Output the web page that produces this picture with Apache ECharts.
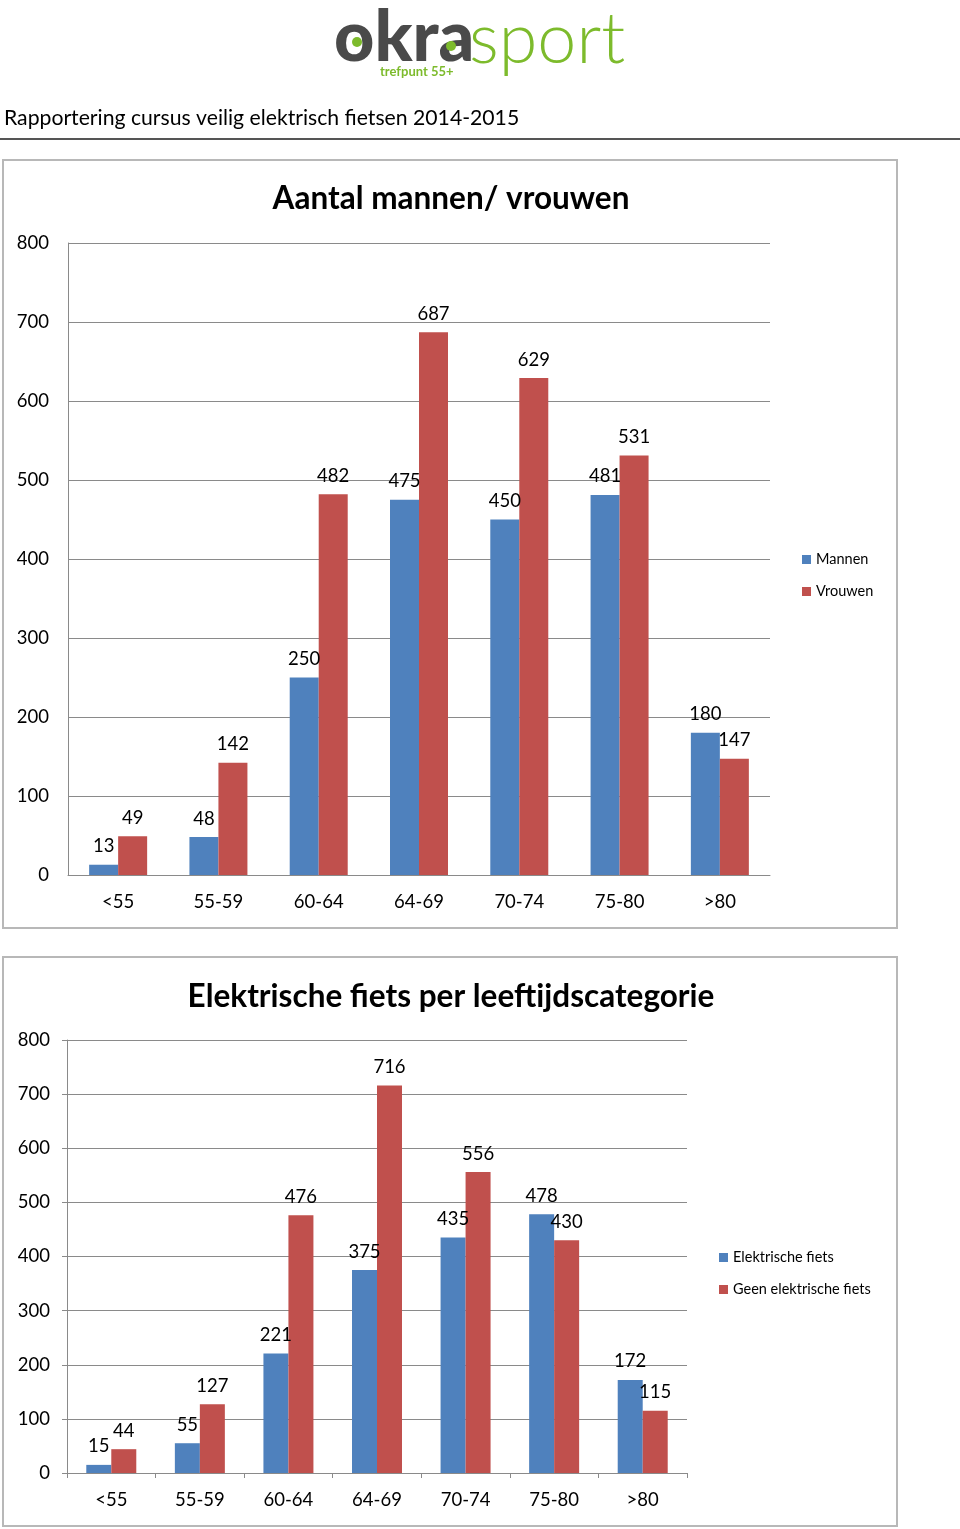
<!DOCTYPE html>
<html><head><meta charset="utf-8">
<script src="https://cdn.jsdelivr.net/npm/echarts@6/dist/echarts.min.js"></script>
<style>html,body{margin:0;padding:0;background:#fff}#c{width:960px;height:1529px}</style>
</head><body><div id="c"></div>
<script>
const ageCats1 = ['<55','55-59','60-64','64-69','70-74','75-80','>80'];
const mannen = [13,48,250,475,450,481,180];
const vrouwen = [49,142,482,687,629,531,147];
const ageCats2 = ['<55','55-59','60-64','64-69','70-74','75-80','>80'];
const elektrisch = [15,55,221,375,435,478,172];
const geenElektrisch = [44,127,476,716,556,430,115];
const yMax = 800, yStep = 100;

const F = 'Lato, "Liberation Sans", sans-serif';
const BLUE = '#4F81BD', RED = '#C0504D', GRID = '#8a8a8a';
const chart = echarts.init(document.getElementById('c'), null, {renderer:'canvas'});

function yAxis(gi, ticks){
  return {gridIndex:gi, type:'value', min:0, max:yMax, interval:yStep,
    axisLine:{show:true, lineStyle:{color:GRID}},
    axisTick:{show:ticks, length:5, lineStyle:{color:GRID}},
    splitLine:{lineStyle:{color:GRID, width:1}},
    axisLabel:{color:'#000', fontFamily:F, fontSize:18.5, margin:ticks?17:19}};
}
function xAxis(gi, cats, ticks){
  return {gridIndex:gi, type:'category', data:cats,
    axisLine:{lineStyle:{color:GRID}},
    axisTick:{show:ticks, length:5, lineStyle:{color:GRID}},
    axisLabel:{color:'#000', fontFamily:F, fontSize:18.5, margin:18}};
}
function bar(name, data, gi, color, w){
  return {name, type:'bar', data, xAxisIndex:gi, yAxisIndex:gi, barWidth:w, barGap:'0%',
    itemStyle:{color}, animation:false,
    label:{show:true, position:'top', distance:9, color:'#000', fontFamily:F, fontSize:18.5}};
}

chart.setOption({
  animation:false,
  title:[
    {text:'Aantal mannen/ vrouwen', left:446, textAlign:'center', top:178,
      textStyle:{fontFamily:F, fontWeight:'bold', fontSize:31.5, color:'#000'}},
    {text:'Elektrische fiets per leeftijdscategorie', left:446, textAlign:'center', top:976,
      textStyle:{fontFamily:F, fontWeight:'bold', fontSize:31.5, color:'#000'}}
  ],
  legend:[
    {data:['Mannen','Vrouwen'], orient:'vertical', left:797, top:547, itemWidth:9, itemHeight:9, itemGap:17,
      icon:'rect', textStyle:{fontFamily:F, fontSize:14.5, color:'#000'}},
    {data:['Elektrische fiets','Geen elektrische fiets'], orient:'vertical', left:714, top:1245, itemWidth:9, itemHeight:9, itemGap:17,
      icon:'rect', textStyle:{fontFamily:F, fontSize:14.5, color:'#000'}}
  ],
  grid:[
    {left:68, right:190, top:243, bottom:654},
    {left:67, right:273, top:1040, bottom:56}
  ],
  xAxis:[xAxis(0, ageCats1, false), xAxis(1, ageCats2, true)],
  yAxis:[yAxis(0, false), yAxis(1, true)],
  series:[
    bar('Mannen', mannen, 0, BLUE, 29),
    bar('Vrouwen', vrouwen, 0, RED, 29),
    bar('Elektrische fiets', elektrisch, 1, BLUE, 25),
    bar('Geen elektrische fiets', geenElektrisch, 1, RED, 25)
  ],
  graphic:[
    {type:'rect', shape:{x:3, y:160, width:894, height:768}, style:{fill:'none', stroke:'#b8b8b8', lineWidth:2}, z:-1},
    {type:'rect', shape:{x:3, y:957, width:894, height:569}, style:{fill:'none', stroke:'#b8b8b8', lineWidth:2}, z:-1},
    {type:'line', shape:{x1:0, y1:139, x2:960, y2:139}, style:{stroke:'#555', lineWidth:2}},
    {type:'text', x:4, y:118, style:{text:'Rapportering cursus veilig elektrisch fietsen 2014-2015', font:'21.2px '+F, fill:'#000', textVerticalAlign:'middle'}},
    {type:'text', x:334, y:73, style:{text:'okra', font:'900 70px '+F, fill:'#4a4a4a', textVerticalAlign:'bottom'}},
    {type:'circle', shape:{cx:357, cy:42, r:5}, style:{fill:'#7dbb2c'}, z:10},
    {type:'circle', shape:{cx:451, cy:46, r:5}, style:{fill:'#7dbb2c'}, z:10},
    {type:'text', x:469, y:75, style:{text:'sport', font:'300 70px '+F, fill:'#7dbb2c', textVerticalAlign:'bottom'}},
    {type:'text', x:380, y:72, style:{text:'trefpunt 55+', font:'bold 13px '+F, fill:'#7dbb2c', textVerticalAlign:'middle'}}
  ]
});
</script></body></html>
